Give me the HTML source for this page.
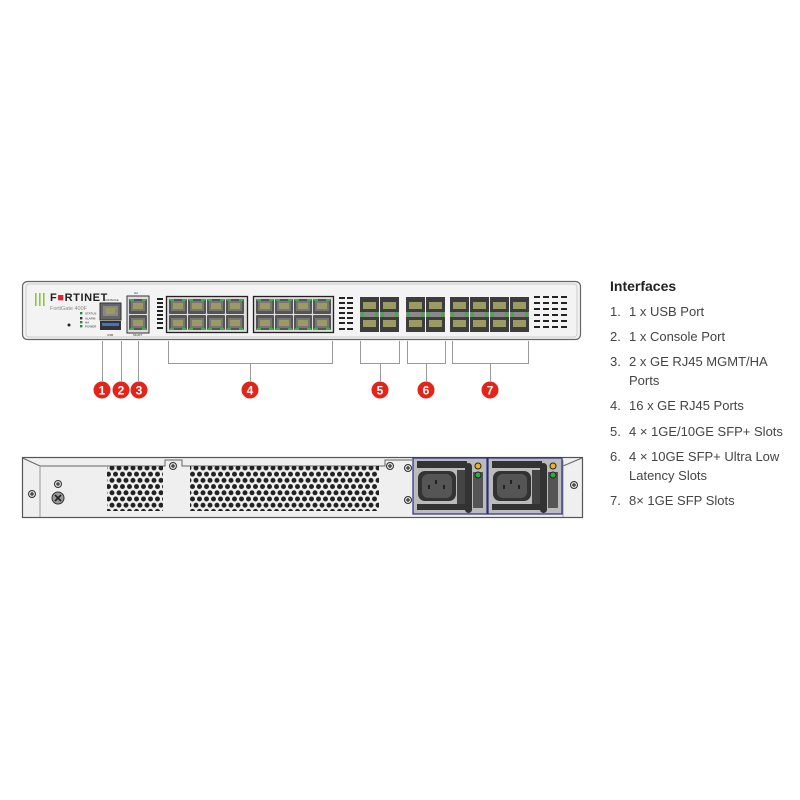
<!DOCTYPE html>
<html><head><meta charset="utf-8"><style>
html,body{margin:0;padding:0;background:#fff;width:800px;height:800px;overflow:hidden}
svg{position:absolute;left:0;top:0}
.t{position:absolute;font-family:"Liberation Sans",sans-serif;font-size:13px;color:#444;line-height:19px}
</style></head><body>
<svg width="800" height="800" viewBox="0 0 800 800" xmlns="http://www.w3.org/2000/svg">
<defs>
<pattern id="dots" x="0" y="0" width="7" height="12.4" patternUnits="userSpaceOnUse">
<circle cx="3.5" cy="3" r="2.5" fill="#222"/><circle cx="7" cy="9.2" r="2.5" fill="#222"/><circle cx="0" cy="9.2" r="2.5" fill="#222"/>
</pattern>
<g id="rj">
<rect x="0" y="0" width="18" height="15" fill="#555" rx="1"/>
<rect x="2" y="2" width="14" height="10" fill="#777"/>
<rect x="4" y="4" width="10" height="6" fill="#9c9a63"/>
<rect x="1" y="0" width="4" height="2" fill="#3fae49"/><rect x="13" y="0" width="4" height="2" fill="#3fae49"/>
</g>
<g id="rj2">
<rect x="0" y="0" width="18" height="15" fill="#555" rx="1"/>
<rect x="2" y="3" width="14" height="10" fill="#777"/>
<rect x="4" y="5" width="10" height="6" fill="#9c9a63"/>
<rect x="1" y="13" width="4" height="2" fill="#3fae49"/><rect x="13" y="13" width="4" height="2" fill="#3fae49"/>
</g>
<g id="sfp">
<rect x="0" y="0" width="19" height="35" fill="#3d3d3d"/>
<rect x="3" y="5" width="13" height="7" fill="#9c9a63"/>
<rect x="3" y="23" width="13" height="7" fill="#9c9a63"/>
<rect x="0" y="15" width="19" height="5" fill="#8a8a8a"/>
<rect x="1" y="15" width="3" height="5" fill="#3fae49"/><rect x="15" y="15" width="3" height="5" fill="#3fae49"/>
</g>
<g id="scr"><circle r="3.5" fill="#ddd" stroke="#333" stroke-width="1"/><path d="M-2 0H2M0 -2V2" stroke="#333" stroke-width="1.2"/></g>
<g id="psu">
<rect x="0" y="0" width="74" height="56" fill="#bbb" stroke="#2a2f7a" stroke-width="1.2"/>
<rect x="4" y="3" width="50" height="7" fill="#333"/>
<rect x="4" y="46" width="50" height="6" fill="#333"/>
<rect x="5" y="13" width="38" height="30" rx="7" fill="#333"/>
<rect x="9" y="16" width="30" height="24" rx="6" fill="#555"/>
<rect x="15" y="27" width="2" height="4" fill="#222"/><rect x="22" y="22" width="2" height="4" fill="#222"/><rect x="30" y="27" width="2" height="4" fill="#222"/>
<rect x="44" y="12" width="10" height="34" fill="#444"/>
<rect x="52" y="5" width="7" height="50" rx="3.5" fill="#333"/>
<rect x="60" y="14" width="10" height="36" fill="#555"/>
<circle cx="65" cy="8" r="3" fill="#f2b218" stroke="#222"/>
<circle cx="65" cy="17" r="3" fill="#2faa4a" stroke="#222"/>
</g>
</defs>

<rect x="22.5" y="281.5" width="558" height="58" rx="5" fill="#f3f3f3" stroke="#666" stroke-width="1.2"/>
<rect x="26" y="284" width="551" height="53" rx="3" fill="none" stroke="#ccc"/>
<rect x="35" y="293" width="1.6" height="13" fill="#8cc63e"/><rect x="39" y="293" width="1.6" height="13" fill="#8cc63e"/><rect x="43" y="293" width="1.6" height="13" fill="#8cc63e"/>
<text x="50" y="301" font-family="Liberation Sans,sans-serif" font-weight="bold" font-size="11" fill="#222" letter-spacing="0.6">F<tspan fill="#d8262f">■</tspan>RTINET</text>
<text x="50" y="310" font-family="Liberation Sans,sans-serif" font-size="5.5" fill="#888">FortiGate 400F</text>
<circle cx="69" cy="325" r="1.5" fill="#222"/>
<g font-family="Liberation Sans,sans-serif" font-size="3" fill="#333">
<rect x="80" y="312" width="2.4" height="2.4" fill="#2a8a3a"/><text x="85" y="314.5">STATUS</text>
<rect x="80" y="317" width="2.4" height="2.4" fill="#333"/><text x="85" y="319.5">ALARM</text>
<rect x="80" y="321" width="2.4" height="2.4" fill="#2a8a3a"/><text x="85" y="323.5">HA</text>
<rect x="80" y="325" width="2.4" height="2.4" fill="#2a8a3a"/><text x="85" y="327.5">POWER</text>
<text x="104" y="301">CONSOLE</text><text x="107" y="336">USB</text><text x="133" y="336">MGMT</text><text x="134" y="294">HA</text>
</g>
<rect x="100" y="303" width="21" height="17" fill="#666" stroke="#333"/>
<rect x="103" y="306" width="15" height="10" fill="#888"/><rect x="106" y="308" width="9" height="6" fill="#9c9a63"/>
<rect x="100" y="321" width="21" height="9" fill="#333"/><rect x="102" y="323" width="17" height="3" fill="#3f74c8"/>
<rect x="127" y="296" width="22" height="37" fill="#ddd" stroke="#333"/>
<use href="#rj" x="129" y="299"/><use href="#rj2" x="129" y="315"/>
<g fill="#222"><rect x="157" y="298" width="6" height="2"/><rect x="157" y="302" width="6" height="2"/><rect x="157" y="306" width="6" height="2"/><rect x="157" y="310" width="6" height="2"/><rect x="157" y="314" width="6" height="2"/><rect x="157" y="318" width="6" height="2"/><rect x="157" y="322" width="6" height="2"/><rect x="157" y="327" width="6" height="2"/></g>
<rect x="166.5" y="296.5" width="81" height="36" fill="#ddd" stroke="#222" stroke-width="1.3"/>
<use href="#rj" x="169" y="299"/><use href="#rj" x="188" y="299"/><use href="#rj" x="207" y="299"/><use href="#rj" x="226" y="299"/>
<use href="#rj2" x="169" y="315"/><use href="#rj2" x="188" y="315"/><use href="#rj2" x="207" y="315"/><use href="#rj2" x="226" y="315"/>
<rect x="253.5" y="296.5" width="80" height="36" fill="#ddd" stroke="#222" stroke-width="1.3"/>
<use href="#rj" x="256" y="299"/><use href="#rj" x="275" y="299"/><use href="#rj" x="294" y="299"/><use href="#rj" x="313" y="299"/>
<use href="#rj2" x="256" y="315"/><use href="#rj2" x="275" y="315"/><use href="#rj2" x="294" y="315"/><use href="#rj2" x="313" y="315"/>
<g fill="#222">
<rect x="339" y="297" width="6" height="2"/><rect x="347" y="297" width="6" height="2"/><rect x="339" y="302" width="6" height="2"/><rect x="347" y="302" width="6" height="2"/><rect x="339" y="307" width="6" height="2"/><rect x="347" y="307" width="6" height="2"/><rect x="339" y="312" width="6" height="2"/><rect x="347" y="312" width="6" height="2"/><rect x="339" y="317" width="6" height="2"/><rect x="347" y="317" width="6" height="2"/><rect x="339" y="322" width="6" height="2"/><rect x="347" y="322" width="6" height="2"/><rect x="339" y="328" width="6" height="2"/><rect x="347" y="328" width="6" height="2"/>
</g>
<use href="#sfp" x="360" y="297"/><use href="#sfp" x="380" y="297"/>
<use href="#sfp" x="406" y="297"/><use href="#sfp" x="426" y="297"/>
<use href="#sfp" x="450" y="297"/><use href="#sfp" x="470" y="297"/><use href="#sfp" x="490" y="297"/><use href="#sfp" x="510" y="297"/>
<g fill="#222">
<rect x="534" y="296" width="6" height="2"/><rect x="543" y="296" width="6" height="2"/><rect x="552" y="296" width="6" height="2"/><rect x="561" y="296" width="6" height="2"/>
<rect x="534" y="302" width="6" height="2"/><rect x="543" y="302" width="6" height="2"/><rect x="552" y="302" width="6" height="2"/><rect x="561" y="302" width="6" height="2"/>
<rect x="534" y="308" width="6" height="2"/><rect x="543" y="308" width="6" height="2"/><rect x="552" y="308" width="6" height="2"/><rect x="561" y="308" width="6" height="2"/>
<rect x="534" y="314" width="6" height="2"/><rect x="543" y="314" width="6" height="2"/><rect x="552" y="314" width="6" height="2"/><rect x="561" y="314" width="6" height="2"/>
<rect x="534" y="320" width="6" height="2"/><rect x="543" y="320" width="6" height="2"/><rect x="552" y="320" width="6" height="2"/><rect x="561" y="320" width="6" height="2"/>
<rect x="534" y="326" width="6" height="2"/><rect x="543" y="326" width="6" height="2"/><rect x="552" y="326" width="6" height="2"/><rect x="561" y="326" width="6" height="2"/>
</g>

<g stroke="#999" stroke-width="1" fill="none">
<path d="M102.5 341V381M121.5 341V381M138.5 341V381"/>
<path d="M168.5 341V363.5H332.5V341M250.5 363.5V381"/>
<path d="M360.5 341V363.5H399.5V341M380.5 363.5V381"/>
<path d="M407.5 341V363.5H445.5V341M426.5 363.5V381"/>
<path d="M452.5 341V363.5H528.5V341M490.5 363.5V381"/>
</g>
<g font-family="Liberation Sans,sans-serif" font-weight="bold" font-size="12" fill="#fff" text-anchor="middle">
<circle cx="102" cy="390" r="8.5" fill="#e1251b"/><text x="102" y="394.5">1</text>
<circle cx="121" cy="390" r="8.5" fill="#e1251b"/><text x="121" y="394.5">2</text>
<circle cx="139" cy="390" r="8.5" fill="#e1251b"/><text x="139" y="394.5">3</text>
<circle cx="250" cy="390" r="8.5" fill="#e1251b"/><text x="250" y="394.5">4</text>
<circle cx="380" cy="390" r="8.5" fill="#e1251b"/><text x="380" y="394.5">5</text>
<circle cx="426" cy="390" r="8.5" fill="#e1251b"/><text x="426" y="394.5">6</text>
<circle cx="490" cy="390" r="8.5" fill="#e1251b"/><text x="490" y="394.5">7</text>
</g>

<rect x="22.5" y="457.5" width="560" height="60" fill="#efefef" stroke="#555" stroke-width="1.2"/>
<path d="M22.5 458L40 466H165V460H182V466H385V460H412" fill="none" stroke="#666"/>
<path d="M40 466V517" stroke="#999"/>
<path d="M563 466L582 458" stroke="#666" fill="none"/>
<path d="M563 460V517" stroke="#999"/>
<rect x="107" y="466" width="56" height="45" fill="url(#dots)"/>
<rect x="190" y="466" width="189" height="45" fill="url(#dots)"/>
<use href="#scr" x="32" y="494"/>
<use href="#scr" x="58" y="484"/>
<circle cx="58" cy="498" r="6" fill="#999" stroke="#333"/><path d="M55 495L61 501M61 495L55 501" stroke="#222" stroke-width="1.6"/>
<use href="#scr" x="173" y="466"/>
<use href="#scr" x="390" y="466"/>
<use href="#scr" x="408" y="468"/>
<use href="#scr" x="408" y="500"/>
<use href="#scr" x="574" y="485"/>
<use href="#psu" x="413" y="458"/>
<use href="#psu" x="488" y="458"/>
</svg>

<div class="t" style="left:610px;top:277px;font-weight:bold;color:#222;font-size:14px">Interfaces</div>
<div class="t" style="left:610px;top:302px">1.</div><div class="t" style="left:629px;top:302px">1 x USB Port</div>
<div class="t" style="left:610px;top:327px">2.</div><div class="t" style="left:629px;top:327px">1 x Console Port</div>
<div class="t" style="left:610px;top:352px">3.</div><div class="t" style="left:629px;top:352px">2 x GE RJ45 MGMT/HA<br>Ports</div>
<div class="t" style="left:610px;top:396px">4.</div><div class="t" style="left:629px;top:396px">16 x GE RJ45 Ports</div>
<div class="t" style="left:610px;top:422px">5.</div><div class="t" style="left:629px;top:422px">4 × 1GE/10GE SFP+ Slots</div>
<div class="t" style="left:610px;top:447px">6.</div><div class="t" style="left:629px;top:447px">4 × 10GE SFP+ Ultra Low<br>Latency Slots</div>
<div class="t" style="left:610px;top:491px">7.</div><div class="t" style="left:629px;top:491px">8× 1GE SFP Slots</div>
</body></html>
